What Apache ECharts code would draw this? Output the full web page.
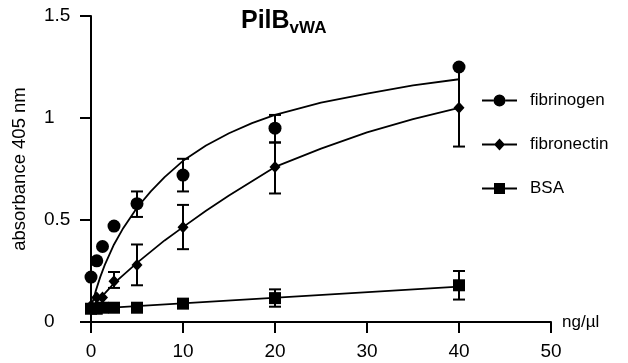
<!DOCTYPE html>
<html>
<head>
<meta charset="utf-8">
<script src="https://cdn.jsdelivr.net/npm/echarts@6/dist/echarts.min.js"></script>
<style>
  html, body { margin: 0; padding: 0; background: #fff; }
  #chart { width: 628px; height: 363px; }
</style>
</head>
<body>
<div id="chart"></div>
<script>
// concentrations (ng/µl)
const conc = [0, 0.625, 1.25, 2.5, 5, 10, 20, 40];

// measured means
const fibrinogen = [0.22, 0.30, 0.37, 0.47, 0.58, 0.72, 0.95, 1.25];
const fibronectin = [0.08, 0.12, 0.12, 0.20, 0.28, 0.465, 0.76, 1.05];
const bsa = [0.065, 0.065, 0.07, 0.07, 0.07, 0.09, 0.117, 0.18];

// error bars (low / high), null = not drawn
const fibrinogenLow = [null, null, null, null, 0.515, 0.64, 0.88, null];
const fibrinogenHigh = [null, null, null, null, 0.64, 0.80, 1.015, null];
const fibronectinLow = [null, null, null, 0.167, 0.18, 0.357, 0.63, 0.86];
const fibronectinHigh = [null, null, null, 0.245, 0.38, 0.574, 0.88, 1.25];
const bsaLow = [null, null, null, null, null, null, 0.075, 0.11];
const bsaHigh = [null, null, null, null, null, null, 0.16, 0.25];

// fitted curves
const fitX = [0, 0.5, 1, 1.5, 2, 2.5, 3.5, 5, 6.5, 8, 10, 12.5, 15, 17.5, 20, 25, 30, 35, 40];
const fibrinogenFit = [0.07, 0.15, 0.22, 0.28, 0.33, 0.38, 0.46, 0.56, 0.64, 0.71, 0.79, 0.865, 0.925, 0.975, 1.015, 1.075, 1.12, 1.16, 1.19];
const fibronectinFit = [0.07, 0.095, 0.12, 0.14, 0.165, 0.19, 0.23, 0.29, 0.345, 0.40, 0.465, 0.545, 0.62, 0.69, 0.76, 0.85, 0.93, 0.995, 1.05];
const bsaFitX = [0, 40];
const bsaFit = [0.064, 0.173];

const xTicks = [0, 10, 20, 30, 40, 50];
const yTicks = [0, 0.5, 1, 1.5];

const FONT = "'Liberation Sans', Arial, sans-serif";

const chart = echarts.init(document.getElementById('chart'));

function points(xs, ys) {
  return xs.map((x, i) => [x, ys[i]]);
}

function errData(lo, hi) {
  const out = [];
  conc.forEach((x, i) => {
    if (lo[i] != null) out.push([x, lo[i], hi[i]]);
  });
  return out;
}

function renderErr(params, api) {
  const x = api.value(0);
  const lo = api.coord([x, api.value(1)]);
  const hi = api.coord([x, api.value(2)]);
  const w = 6;
  const style = {stroke: '#000', lineWidth: 2};
  return {
    type: 'group',
    children: [
      {type: 'line', shape: {x1: lo[0], y1: lo[1], x2: hi[0], y2: hi[1]}, style},
      {type: 'line', shape: {x1: hi[0] - w, y1: hi[1], x2: hi[0] + w, y2: hi[1]}, style},
      {type: 'line', shape: {x1: lo[0] - w, y1: lo[1], x2: lo[0] + w, y2: lo[1]}, style}
    ]
  };
}

function errSeries(lo, hi) {
  return {
    type: 'custom',
    renderItem: renderErr,
    data: errData(lo, hi),
    silent: true,
    z: 3
  };
}

function fitSeries(xs, ys) {
  return {
    type: 'line',
    data: points(xs, ys),
    smooth: false,
    showSymbol: false,
    silent: true,
    lineStyle: {color: '#000', width: 1.8, join: 'round'},
    z: 2
  };
}

// legend icons: line with marker in the middle
const iconCircle = 'path://M0,5L11.5,5L11.5,7L0,7Z M23.5,5L35,5L35,7L23.5,7Z M11.5,6A6,6 0 1 1 23.5,6A6,6 0 1 1 11.5,6Z';
const iconDiamond = 'path://M0,5L13,5L13,7L0,7Z M22,5L35,5L35,7L22,7Z M12,6L17.5,0L23,6L17.5,12Z';
const iconSquare = 'path://M0,5L12,5L12,7L0,7Z M23,5L35,5L35,7L23,7Z M12,0.5L23,0.5L23,11.5L12,11.5Z';

const option = {
  animation: false,
  backgroundColor: '#fff',
  textStyle: {fontFamily: FONT, color: '#000'},
  title: {
    text: '{a|PilB}{b|vWA}',
    left: 241,
    top: 6,
    padding: 0,
    textStyle: {
      rich: {
        a: {fontFamily: FONT, fontSize: 25, fontWeight: 'bold', color: '#000'},
        b: {fontFamily: FONT, fontSize: 17, fontWeight: 'bold', color: '#000', padding: [14, 0, 0, 0]}
      }
    }
  },
  legend: {
    orient: 'vertical',
    left: 482,
    top: 92,
    padding: 0,
    itemWidth: 35,
    itemHeight: 12,
    itemGap: 27,
    selectedMode: false,
    textStyle: {fontFamily: FONT, fontSize: 17, color: '#000', padding: [0, 0, 0, 8]},
    data: [
      {name: 'fibrinogen', icon: iconCircle},
      {name: 'fibronectin', icon: iconDiamond},
      {name: 'BSA', icon: iconSquare}
    ]
  },
  grid: {left: 91, right: 77, top: 16, bottom: 41, containLabel: false},
  xAxis: {
    type: 'value',
    min: xTicks[0],
    max: xTicks[xTicks.length - 1],
    interval: 10,
    name: 'ng/µl',
    nameLocation: 'end',
    nameGap: 11,
    nameTextStyle: {fontFamily: FONT, fontSize: 17, color: '#000'},
    axisLine: {show: true, lineStyle: {color: '#000', width: 2}},
    axisTick: {show: true, length: 11, lineStyle: {color: '#000', width: 2}},
    axisLabel: {fontFamily: FONT, fontSize: 19, color: '#000', margin: 20},
    splitLine: {show: false}
  },
  yAxis: {
    type: 'value',
    min: yTicks[0],
    max: yTicks[yTicks.length - 1],
    interval: 0.5,
    name: 'absorbance 405 nm',
    nameLocation: 'middle',
    nameGap: 62,
    nameTextStyle: {fontFamily: FONT, fontSize: 18.5, color: '#000'},
    axisLine: {show: true, lineStyle: {color: '#000', width: 2}},
    axisTick: {show: true, length: 11, lineStyle: {color: '#000', width: 2}},
    axisLabel: {fontFamily: FONT, fontSize: 19, color: '#000', margin: 47, align: 'left'},
    splitLine: {show: false}
  },
  series: [
    fitSeries(fitX, fibrinogenFit),
    fitSeries(fitX, fibronectinFit),
    fitSeries(bsaFitX, bsaFit),
    errSeries(fibrinogenLow, fibrinogenHigh),
    errSeries(fibronectinLow, fibronectinHigh),
    errSeries(bsaLow, bsaHigh),
    {
      name: 'fibrinogen',
      type: 'scatter',
      symbol: 'circle',
      symbolSize: 13,
      itemStyle: {color: '#000', opacity: 1},
      data: points(conc, fibrinogen),
      z: 4
    },
    {
      name: 'fibronectin',
      type: 'scatter',
      symbol: 'diamond',
      symbolSize: [11, 12],
      itemStyle: {color: '#000', opacity: 1},
      data: points(conc, fibronectin),
      z: 4
    },
    {
      name: 'BSA',
      type: 'scatter',
      symbol: 'rect',
      symbolSize: 12,
      itemStyle: {color: '#000', opacity: 1},
      data: points(conc, bsa),
      z: 4
    }
  ]
};

chart.setOption(option);
window.addEventListener('resize', () => chart.resize());
</script>
</body>
</html>
